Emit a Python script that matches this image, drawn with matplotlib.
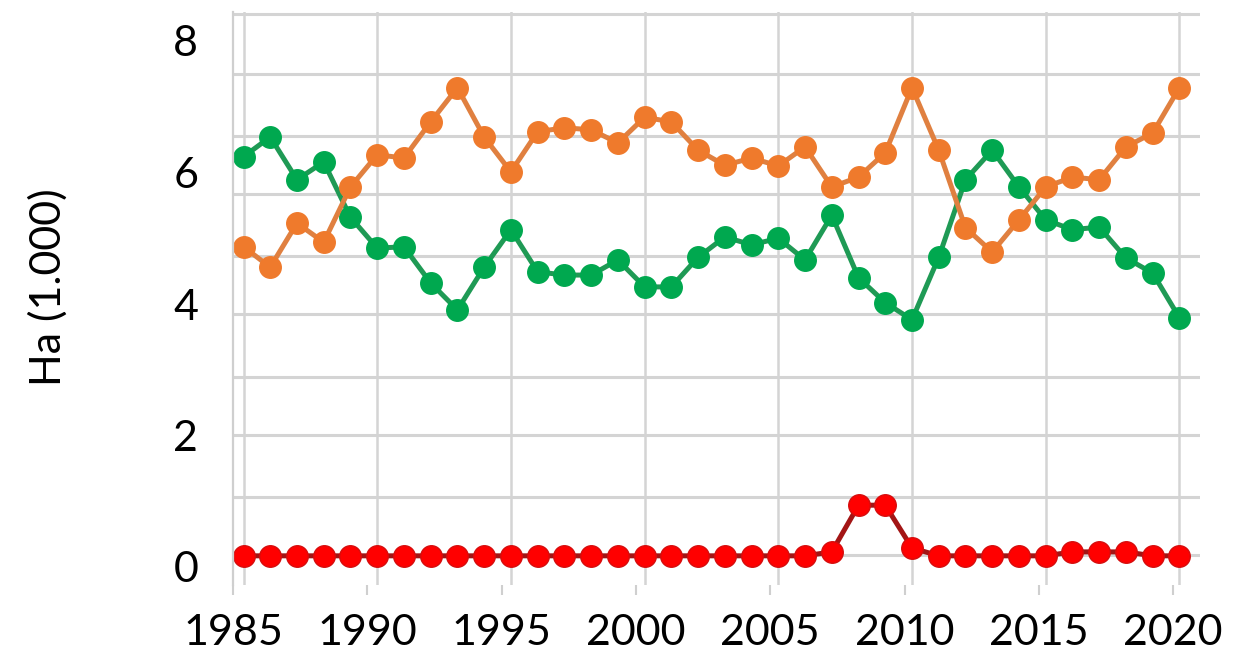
import matplotlib
matplotlib.use("Agg")
import matplotlib.pyplot as plt
import numpy as np

years = list(range(1985, 2021))

green = [6.24, 6.54, 5.89, 6.16, 5.32, 4.85, 4.87, 4.32, 3.91, 4.56,
         5.13, 4.49, 4.44, 4.44, 4.67, 4.26, 4.26, 4.71, 5.02, 4.90,
         5.00, 4.67, 5.35, 4.40, 4.02, 3.76, 4.71, 5.89, 6.34, 5.78,
         5.28, 5.13, 5.17, 4.70, 4.47, 3.79]

orange = [4.87, 4.56, 5.23, 4.94, 5.78, 6.27, 6.22, 6.77, 7.29, 6.54,
          6.01, 6.62, 6.68, 6.65, 6.45, 6.84, 6.77, 6.34, 6.11, 6.22,
          6.10, 6.39, 5.78, 5.93, 6.30, 7.29, 6.34, 5.16, 4.79, 5.28,
          5.78, 5.93, 5.89, 6.39, 6.60, 7.29]

red = [0.17, 0.17, 0.17, 0.17, 0.17, 0.17, 0.17, 0.17, 0.17, 0.17,
       0.17, 0.17, 0.17, 0.17, 0.17, 0.17, 0.17, 0.17, 0.17, 0.17,
       0.17, 0.17, 0.23, 0.94, 0.94, 0.29, 0.17, 0.17, 0.17, 0.17,
       0.17, 0.23, 0.23, 0.23, 0.17, 0.17]

x_ticks = [1985, 1990, 1995, 2000, 2005, 2010, 2015, 2020]
y_ticks = [0, 2, 4, 6, 8]
y_label = "Ha (1.000)"

W, H = 1257, 662
FONT = ["Lato", "DejaVu Sans"]

fig = plt.figure(figsize=(W / 100, H / 100), dpi=100)
fig.patch.set_facecolor("white")

# axes rectangle in pixels
left_px, right_px, top_px, bottom_px = 233, 1200, 12, 585
rect = [left_px / W, 1 - bottom_px / H, (right_px - left_px) / W, (bottom_px - top_px) / H]

# y scale shared: label 0 at 567 px, 65.75 px per unit
y0_px, ppu = 567.0, 65.75
ylim = ((y0_px - bottom_px) / ppu, (y0_px - top_px) / ppu)

# data axes (plot image with gridlines)
ax = fig.add_axes(rect)
x_first_px, ppy = 243.5, 26.74
ax.set_xlim(1985 - (x_first_px - left_px) / ppy, 1985 + (right_px - x_first_px) / ppy)
ax.set_ylim(*ylim)
for s in ax.spines.values():
    s.set_visible(False)
ax.set_xticks([])
ax.set_yticks([])

grid_y = [(y0_px - p) / ppu for p in [555, 497, 435, 377, 314, 256, 194, 136, 74, 14]]
for gy in grid_y:
    ax.axhline(gy, color="#d4d4d4", lw=2.2, zorder=1)
for gx in x_ticks:
    ax.axvline(gx, color="#d4d4d4", lw=1.8, zorder=1)

ax.plot(years, green, color="#1f9a55", lw=3.6, marker="o", ms=15.5,
        mfc="#00a84f", mec="#00a84f", zorder=3)
ax.plot(years, orange, color="#e08040", lw=3.6, marker="o", ms=15.5,
        mfc="#ef7a2c", mec="#ef7a2c", zorder=4)
ax.plot(years, red, color="#a31515", lw=3.6, marker="o", ms=15.5,
        mfc="#ff0000", mec="#d60d0d", mew=1.0, zorder=5)

# frame axes (ticks and labels)
fx = fig.add_axes(rect, facecolor="none")
fx.set_xlim(1985, 1985 + (right_px - left_px) / 26.86)
fx.set_ylim(*ylim)
for k in ["top", "right", "bottom"]:
    fx.spines[k].set_visible(False)
fx.spines["left"].set_color("#cfcfcf")
fx.spines["left"].set_linewidth(1.6)
fx.set_xticks(x_ticks)
fx.set_xticklabels([str(t) for t in x_ticks])
fx.set_yticks(y_ticks)
fx.set_yticklabels([str(t) for t in y_ticks])
fx.tick_params(axis="x", length=7, width=1.5, color="#cfcfcf", pad=14,
               labelsize=31, labelcolor="#000000")
fx.tick_params(axis="y", length=0, pad=25, labelsize=31, labelcolor="#000000")
for lab in fx.get_xticklabels() + fx.get_yticklabels():
    lab.set_family(FONT)
    lab.set_fontweight("normal")

fig.text(48 / W, 1 - 287 / H, y_label, rotation=90, ha="center", va="center",
         fontsize=31, color="#000000", family=FONT, fontweight="normal")

fig.savefig("out.png", dpi=100, facecolor="white")
